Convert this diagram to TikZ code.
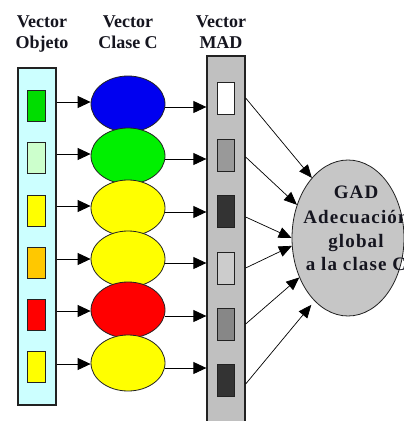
\documentclass[tikz,border=0pt]{standalone}
\usepackage{fontspec}
\setmainfont{Liberation Serif}
\newfontfamily\diagfont{Liberation Serif Bold}
\newfontfamily\gadfont[LetterSpace=6]{Liberation Serif Bold}
\usetikzlibrary{arrows.meta,shapes.geometric,calc}
\definecolor{cyanfill}{HTML}{CCFFFF}
\definecolor{madfill}{HTML}{C0C0C0}
\definecolor{gadfill}{HTML}{C6C6C6}
\definecolor{sqgreen}{HTML}{00DD00}
\definecolor{sqlgreen}{HTML}{CCFFCC}
\definecolor{sqyellow}{HTML}{FFFF00}
\definecolor{sqorange}{HTML}{FFC800}
\definecolor{sqred}{HTML}{FF0000}
\definecolor{elblue}{HTML}{0000F0}
\definecolor{elgreen}{HTML}{00F000}
\definecolor{edge}{HTML}{222222}
\definecolor{txt}{HTML}{15151F}
\tikzset{
  panel/.style={draw=edge, line width=1.3pt, inner sep=0pt},
  smallsq/.style={draw=edge, line width=0.9pt, minimum width=18pt, minimum height=31pt, inner sep=0pt},
  madsq/.style={draw=edge, line width=0.9pt, minimum width=17pt, minimum height=32pt, inner sep=0pt},
  classel/.style={ellipse, draw=edge, line width=0.8pt, minimum width=74pt, minimum height=56pt, inner sep=0pt},
  head/.style={font=\diagfont\fontsize{18}{21}\selectfont, text=txt, anchor=base, inner sep=0pt},
  gadtxt/.style={font=\gadfont\fontsize{19}{24}\selectfont, text=txt, anchor=base, inner sep=0pt},
  arr/.style={draw=black, line width=0.9pt, -{Triangle[length=13pt,width=12pt]}},
  thinarr/.style={draw=black, line width=0.7pt, -{Triangle[length=13pt,width=11pt]}}
}
\begin{document}
\begin{tikzpicture}[x=1pt,y=-1pt]
\useasboundingbox (0,0) rectangle (404,421);
\clip (0,0) rectangle (404,421);
\fill[white] (0,0) rectangle (404,421);
% headers
\node[head] (h1a) at (42,27) {Vector};
\node[head] (h1b) at (42,48) {Objeto};
\node[head] (h2a) at (128,27) {Vector};
\node[head] (h2b) at (128,48) {Clase C};
\node[head] (h3a) at (221,27) {Vector};
\node[head] (h3b) at (221,48) {MAD};
% panels
\node[panel, fill=cyanfill, minimum width=38pt, minimum height=337pt] (obj) at (37,236.5) {};
\node[panel, fill=madfill, minimum width=38pt, minimum height=372pt] (mad) at (226,242) {};
% object squares
\node[smallsq, fill=sqgreen]  (o1) at (36,106) {};
\node[smallsq, fill=sqlgreen] (o2) at (36.5,158) {};
\node[smallsq, fill=sqyellow] (o3) at (36,211) {};
\node[smallsq, fill=sqorange] (o4) at (36,263) {};
\node[smallsq, fill=sqred]    (o5) at (36,315) {};
\node[smallsq, fill=sqyellow] (o6) at (36,367) {};
% class ellipses
\node[classel, fill=elblue]   (e1) at (128,104) {};
\node[classel, fill=elgreen]  (e2) at (128,156) {};
\node[classel, fill=sqyellow] (e3) at (128,208) {};
\node[classel, fill=sqyellow] (e4) at (128,259) {};
\node[classel, fill=sqred]    (e5) at (128,310) {};
\node[classel, fill=sqyellow] (e6) at (128,363) {};
% MAD squares
\node[madsq, fill=white]          (m1) at (225.5,98) {};
\node[madsq, fill=black!40]       (m2) at (225.5,155) {};
\node[madsq, fill=black!80]       (m3) at (225.5,211) {};
\node[madsq, fill=black!20]       (m4) at (225.5,268) {};
\node[madsq, fill=black!47]       (m5) at (225.5,324) {};
\node[madsq, fill=black!80]       (m6) at (225.5,380) {};
% GAD ellipse
\node[ellipse, draw=edge, line width=0.8pt, fill=gadfill, minimum width=112pt, minimum height=156pt, inner sep=0pt] (gad) at (348,238) {};
\node[gadtxt] (g1) at (356,198) {GAD};
\node[gadtxt] (g2) at (356,223) {Adecuación};
\node[gadtxt] (g3) at (356,247) {global};
\node[gadtxt] (g4) at (356,270) {a la clase C};
% object -> class arrows
\draw[arr] (obj.east |- 0,102) -- (e1.west |- 0,102);
\draw[arr] (obj.east |- 0,154) -- (e2.west |- 0,154);
\draw[arr] (obj.east |- 0,206) -- (e3.west |- 0,206);
\draw[arr] (obj.east |- 0,259) -- (e4.west |- 0,259);
\draw[arr] (obj.east |- 0,311) -- (e5.west |- 0,311);
\draw[arr] (obj.east |- 0,364) -- (e6.west |- 0,364);
% class -> MAD arrows
\draw[arr] (e1.east |- 0,107) -- (mad.west |- 0,107);
\draw[arr] (e2.east |- 0,159) -- (mad.west |- 0,159);
\draw[arr] (e3.east |- 0,212) -- (mad.west |- 0,212);
\draw[arr] (e4.east |- 0,263) -- (mad.west |- 0,263);
\draw[arr] (e5.east |- 0,316) -- (mad.west |- 0,316);
\draw[arr] (e6.east |- 0,368) -- (mad.west |- 0,368);
% MAD -> GAD
\draw[thinarr] (mad.east |- m1) -- (gad.121);
\draw[thinarr] (mad.east |- 0,157) -- (gad.147);
\draw[thinarr] (mad.east |- 0,217) -- (gad.180);
\draw[thinarr] (mad.east |- m4) -- (gad.188);
\draw[thinarr] (mad.east |- m5) -- (gad.219);
\draw[thinarr, shorten >=5pt] (mad.east |- 0,384) -- (gad.242);
\end{tikzpicture}
\end{document}
